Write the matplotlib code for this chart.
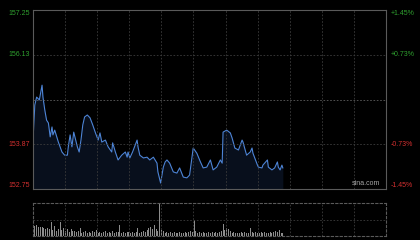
import matplotlib
matplotlib.use("Agg")
from matplotlib import pyplot as plt
import numpy as np

# intraday price, minutes from open -> price
minutes = [0, 2, 4, 7, 10, 11, 13, 15, 17, 19, 21, 22, 24, 28, 32, 35, 38, 39, 41, 43,
           45, 49, 51, 53, 55, 57, 60, 63, 66, 69, 72, 74, 76, 80, 83, 87, 88, 91, 94, 98,
           102, 104, 105, 107, 110, 115, 116, 118, 122, 126, 129, 133, 137, 138, 141, 144,
           146, 148, 151, 155, 159, 162, 166, 170, 173, 177, 181, 185, 188, 192, 196, 199,
           203, 207, 209, 210, 214, 218, 220, 223, 227, 231, 232, 236, 240, 242, 243, 248,
           249, 253, 254, 259, 260, 264, 267, 270, 271, 273, 275, 276]
prices = [153.98, 154.86, 155.06, 154.99, 155.36, 155.06, 154.74, 154.48, 154.41, 154.06,
          154.31, 154.11, 154.23, 153.93, 153.68, 153.60, 153.60, 153.81, 154.11, 153.81,
          154.18, 153.81, 153.68, 153.98, 154.36, 154.56, 154.61, 154.54, 154.36, 154.16,
          153.98, 154.16, 153.93, 153.98, 153.81, 153.68, 153.91, 153.68, 153.48, 153.60,
          153.68, 153.55, 153.68, 153.53, 153.68, 153.98, 153.81, 153.60, 153.53, 153.55,
          153.48, 153.55, 153.40, 153.18, 152.90, 153.30, 153.43, 153.48, 153.40, 153.18,
          153.15, 153.28, 153.05, 153.03, 153.10, 153.78, 153.65, 153.43, 153.28, 153.30,
          153.48, 153.23, 153.30, 153.48, 153.40, 154.18, 154.23, 154.16, 154.03, 153.78,
          153.73, 153.98, 153.93, 153.60, 153.68, 153.78, 153.65, 153.35, 153.30, 153.28,
          153.35, 153.48, 153.30, 153.23, 153.28, 153.43, 153.30, 153.23, 153.35, 153.28]

prev_close = 155.00
left_ticks = [157.25, 156.13, 153.87, 152.75]
left_labels = ["157.25", "156.13", "153.87", "152.75"]
right_labels = ["+1.45%", "+0.73%", "-0.73%", "-1.45%"]

# volume every 2 minutes (relative units, 100 = panel top)
vol_minutes = list(range(0, 278, 2))
volumes = [95, 30, 32, 28, 26, 28, 24, 22, 25, 20, 42, 18, 30, 16, 20, 42, 18, 25, 15, 20,
           12, 22, 14, 15, 12, 14, 25, 10, 12, 15, 10, 13, 9, 14, 11, 18, 10, 12, 9, 13,
           15, 10, 12, 9, 14, 10, 12, 11, 33, 10, 12, 9, 11, 13, 10, 12, 9, 11, 25, 10,
           12, 14, 11, 18, 25, 28, 22, 33, 20, 15, 120, 18, 14, 10, 12, 9, 11, 8, 12, 10,
           9, 13, 8, 10, 12, 9, 11, 15, 12, 50, 14, 10, 12, 9, 11, 8, 10, 12, 9, 11,
           10, 13, 9, 11, 14, 35, 18, 25, 20, 15, 10, 12, 9, 8, 10, 12, 9, 11, 8, 10,
           25, 12, 9, 11, 8, 10, 12, 9, 11, 8, 10, 13, 9, 11, 15, 12, 18, 10, 9]

plt.rcParams['font.family'] = ['Liberation Sans', 'DejaVu Sans']
fig = plt.figure(figsize=(4.2, 2.4), dpi=100, facecolor="black")

grid_col = "#3c3c3c"
frame_col = "#5a5a5a"
green = "#2fa02f"
red = "#d43030"

ax = fig.add_axes([33/420, 1-189/240, 353/420, 179/240], facecolor="black")
ax.set_xlim(0, 390)
ax.set_ylim(152.75, 157.25)
ax.fill_between(minutes, prices, 152.75, color="#0b1424", alpha=0.8, lw=0)
ax.plot(minutes, prices, color="#4d84d6", lw=0.8)

xt = np.linspace(0, 390, 12)
for x in xt[1:-1]:
    ax.axvline(x, color=grid_col, lw=0.6, ls=(0, (2, 2)))
for y in [156.125, 153.875]:
    ax.axhline(y, color=grid_col, lw=0.6, ls=(0, (2, 2)))
ax.axhline(prev_close, color="#5e5e5e", lw=0.6, ls=(0, (2, 2)))
ax.set_xticks([])
ax.set_yticks([])
for s in ax.spines.values():
    s.set_color(frame_col)
    s.set_linewidth(0.8)

vas = ["top", "center", "center", "bottom"]
cols = [green, green, red, red]
for t, ll, rl, va, c in zip(left_ticks, left_labels, right_labels, vas, cols):
    ax.text(-0.008, t, ll, transform=ax.get_yaxis_transform(), ha="right", va=va,
            fontsize=5, color=c)
    ax.text(1.012, t, rl, transform=ax.get_yaxis_transform(), ha="left", va=va,
            fontsize=5, color=c)

ax.text(0.984, 0.01, "sina.com", transform=ax.transAxes, ha="right", va="bottom",
        fontsize=5, color="#a8a8a8")

# volume panel
vax = fig.add_axes([33/420, 1-236/240, 353/420, 33/240], facecolor="black")
vax.set_xlim(0, 390)
vax.set_ylim(0, 100)
vax.bar(vol_minutes, volumes, width=1.1, color="#8c8c8c", lw=0)
for x in xt[1:-1]:
    vax.axvline(x, color=grid_col, lw=0.6, ls=(0, (2, 2)))
vax.axhline(50, color=grid_col, lw=0.6, ls=(0, (2, 2)))
vax.set_xticks([])
vax.set_yticks([])
for s in vax.spines.values():
    s.set_color(frame_col)
    s.set_linewidth(0.8)
    s.set_linestyle((0, (2, 2)))

fig.savefig("out.png", dpi=100, facecolor="black")
